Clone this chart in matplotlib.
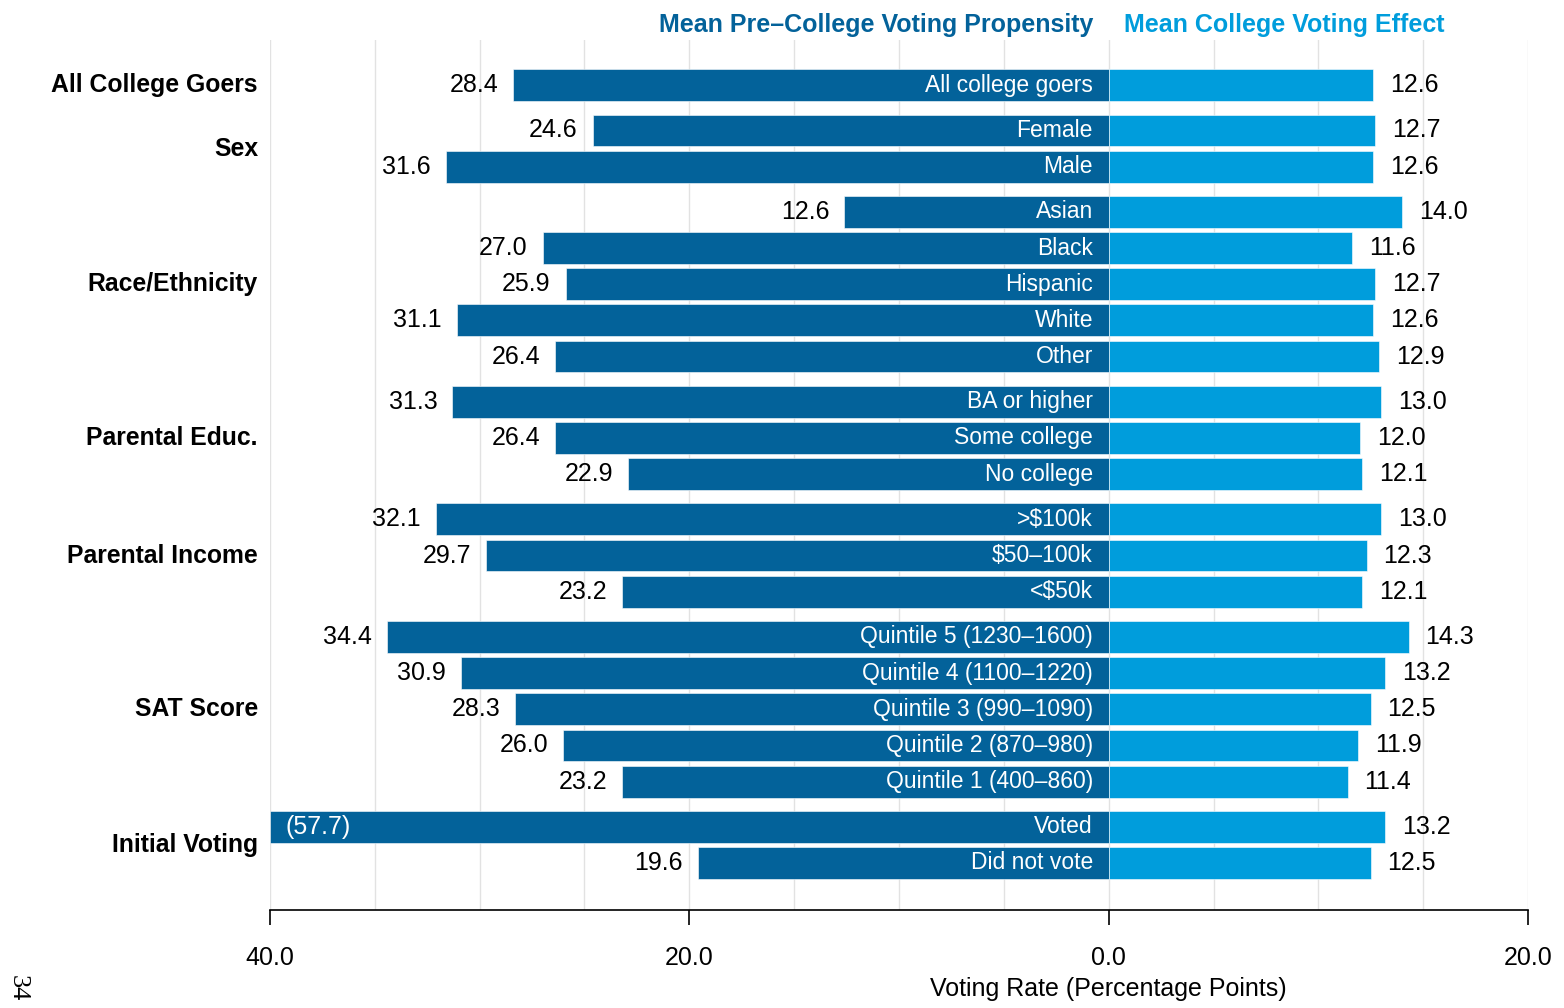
import numpy as np
import matplotlib
matplotlib.use("Agg")
import matplotlib.pyplot as plt

plt.rcParams['font.family'] = ['Liberation Sans', 'DejaVu Sans']

# data
groups = ['All College Goers', 'Sex', 'Race/Ethnicity', 'Parental Educ.',
          'Parental Income', 'SAT Score', 'Initial Voting']
group_rows = [
    ['All college goers'],
    ['Female', 'Male'],
    ['Asian', 'Black', 'Hispanic', 'White', 'Other'],
    ['BA or higher', 'Some college', 'No college'],
    ['>$100k', '$50\u2013100k', '<$50k'],
    ['Quintile 5 (1230\u20131600)', 'Quintile 4 (1100\u20131220)',
     'Quintile 3 (990\u20131090)', 'Quintile 2 (870\u2013980)',
     'Quintile 1 (400\u2013860)'],
    ['Voted', 'Did not vote'],
]
pre_college = [28.4, 24.6, 31.6, 12.6, 27.0, 25.9, 31.1, 26.4, 31.3, 26.4, 22.9,
               32.1, 29.7, 23.2, 34.4, 30.9, 28.3, 26.0, 23.2, 57.7, 19.6]
college_effect = [12.6, 12.7, 12.6, 14.0, 11.6, 12.7, 12.6, 12.9, 13.0, 12.0, 12.1,
                  13.0, 12.3, 12.1, 14.3, 13.2, 12.5, 11.9, 11.4, 13.2, 12.5]

dark = '#03629a'
light = '#009ddc'
xmin, xmax = -40, 20

# row positions with a small gap between groups
ypos, labels, group_y = [], [], []
i = 0
for g, rows in enumerate(group_rows):
    start = i + 0.25 * g
    for r in rows:
        ypos.append(i + 0.25 * g)
        labels.append(r)
        i += 1
    group_y.append((start + ypos[-1]) / 2)
ypos = np.array(ypos)

fig = plt.figure(figsize=(15.64, 10.08), dpi=100)
ax = fig.add_axes([0.1726, 0.0972, 0.8044, 0.8631])

left_vals = -np.minimum(np.array(pre_college), -xmin)
ax.barh(ypos, left_vals, height=0.88, color=dark, edgecolor='white', linewidth=0.4, zorder=2)
ax.barh(ypos, college_effect, height=0.88, color=light, edgecolor='white', linewidth=0.4, zorder=2)

fs_in = 16.5
fs = 18
for y, lab, p, e in zip(ypos, labels, pre_college, college_effect):
    ax.text(-0.75, y, lab, color='white', ha='right', va='center', fontsize=fs_in, zorder=3)
    if p > -xmin:
        ax.text(xmin + 0.75, y, '(%.1f)' % p, color='white', ha='left', va='center',
                fontsize=fs, zorder=3)
    else:
        ax.text(-p - 0.72, y, '%.1f' % p, color='black', ha='right', va='center',
                fontsize=fs, zorder=3)
    ax.text(e + 0.8, y, '%.1f' % e, color='black', ha='left', va='center',
            fontsize=fs, zorder=3)

for g, gy in zip(groups, group_y):
    ax.text(-0.0095, gy, g, transform=ax.get_yaxis_transform(), ha='right', va='center',
            fontsize=17.8, fontweight='bold')

ax.set_xlim(xmin, xmax)
ax.set_ylim(22.8, -1.25)
ax.set_xticks(np.arange(xmin, xmax + 1, 5), minor=True)
ax.set_xticks([-40, -20, 0, 20])
ax.set_xticklabels(['40.0', '20.0', '0.0', '20.0'], fontsize=fs)
ax.tick_params(axis='x', which='major', length=11, width=1.2, pad=15, direction='out')
ax.tick_params(axis='x', which='minor', length=0)
ax.set_yticks([])
ax.grid(axis='x', which='both', color='#e2e2e2', linewidth=1, zorder=0)
ax.set_axisbelow(True)
for s in ['top', 'left', 'right']:
    ax.spines[s].set_visible(False)
ax.spines['bottom'].set_linewidth(1.2)
ax.set_xlabel('Voting Rate (Percentage Points)', fontsize=fs)
ax.xaxis.set_label_coords(2 / 3, -0.091)
ax.xaxis.label.set_verticalalignment('center')

ax.text(-0.75, 1.0175, 'Mean Pre\u2013College Voting Propensity', transform=ax.get_xaxis_transform(),
        ha='right', va='center', fontsize=18, fontweight='bold', color=dark)
ax.text(0.75, 1.0175, 'Mean College Voting Effect', transform=ax.get_xaxis_transform(),
        ha='left', va='center', fontsize=18, fontweight='bold', color=light)

fig.text(0.0115, 0.007, '34', rotation=-90, family='Liberation Serif', fontsize=19,
         ha='center', va='bottom')

fig.savefig('out.png', dpi=100)
